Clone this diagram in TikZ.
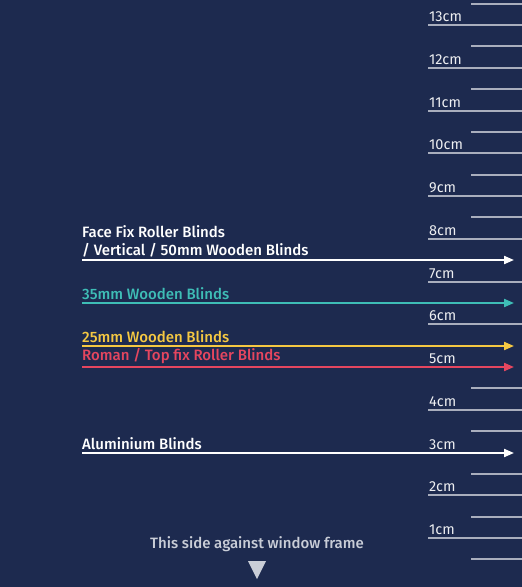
\documentclass[tikz,border=0pt]{standalone}
\usepackage{fontspec}
\setmainfont{Fira Sans Medium}
\newfontfamily\rulerfont{Fira Sans}
\usepackage{xcolor}
\usetikzlibrary{arrows.meta,positioning}
\definecolor{bgnavy}{HTML}{1D2A4F}
\definecolor{rulegray}{HTML}{A9AEBD}
\definecolor{tealc}{HTML}{3EBDB6}
\definecolor{goldc}{HTML}{F5C842}
\definecolor{rosec}{HTML}{E5465F}
\definecolor{paleg}{HTML}{C9CDD7}
\tikzstyle{tick} = [rulegray, line width=1.5pt]
\tikzstyle{cmlabel} = [anchor=south west, inner xsep=1pt, inner ysep=3pt, text=white!92!bgnavy, font=\rulerfont\fontsize{14.5}{17}\selectfont]
\tikzstyle{blind} = [line width=2pt, -{Triangle[length=10pt,width=8pt]}]
\tikzstyle{blindlabel} = [anchor=south west, inner xsep=0pt, inner ysep=3pt, align=left, font=\fontsize{15}{17.5}\selectfont]

\begin{document}
\begin{tikzpicture}[x=1pt,y=-1pt]
            \fill[bgnavy] (0,0) rectangle (522,587);
            \useasboundingbox (0,0) rectangle (522,587);
            % ruler
            \foreach \n in {1,...,13}{
                \pgfmathsetmacro{\yy}{round(538-42.75*(\n-1))}
                \node[cmlabel] (cm\n) at (428,\yy) {\n cm};
                \ifnum\n=3\else\ifnum\n=5\else
                \draw[tick] (428,\yy) -- (522,\yy);
                \fi\fi
            }
            \foreach \h in {0,1,2,3,4,8,9,10,11,12,13}{
                \pgfmathsetmacro{\yy}{round(538-42.75*\h+21.4)}
                \draw[tick] (471,\yy) -- (522,\yy);
            }
            % blinds
            \coordinate (facestart) at (82,260);
            \coordinate (faceend) at (514,260);
            \coordinate (thirtyfivestart) at (82,303);
            \coordinate (thirtyfiveend) at (514,303);
            \coordinate (twentyfivestart) at (82,346);
            \coordinate (twentyfiveend) at (514,346);
            \coordinate (romanstart) at (82,367);
            \coordinate (romanend) at (514,367);
            \coordinate (alustart) at (82,453);
            \coordinate (aluend) at (514,453);
            \draw[blind, white] (facestart) -- (faceend);
            \draw[blind, tealc] (thirtyfivestart) -- (thirtyfiveend);
            \draw[blind, goldc] (twentyfivestart) -- (twentyfiveend);
            \draw[blind, rosec] (romanstart) -- (romanend);
            \draw[blind, white] (alustart) -- (aluend);
            \node[blindlabel, text=white] (facelabel) at (facestart) {Face Fix Roller Blinds\\/ Vertical / 50mm Wooden Blinds};
            \node[blindlabel, text=tealc] (thirtyfivelabel) at (thirtyfivestart) {35mm Wooden Blinds};
            \node[blindlabel, text=goldc] (twentyfivelabel) at (twentyfivestart) {25mm Wooden Blinds};
            \node[blindlabel, text=rosec] (romanlabel) at (romanstart) {Roman / Top fix Roller Blinds};
            \node[blindlabel, text=white] (alulabel) at (alustart) {Aluminium Blinds};
            % window frame
            \node[text=paleg, font=\fontsize{15}{17}\selectfont] (frame) at (257,544) {This side against window frame};
            \fill[paleg] (248,561) -- (266,561) -- (257,579) -- cycle;
        \end{tikzpicture}
\end{document}
